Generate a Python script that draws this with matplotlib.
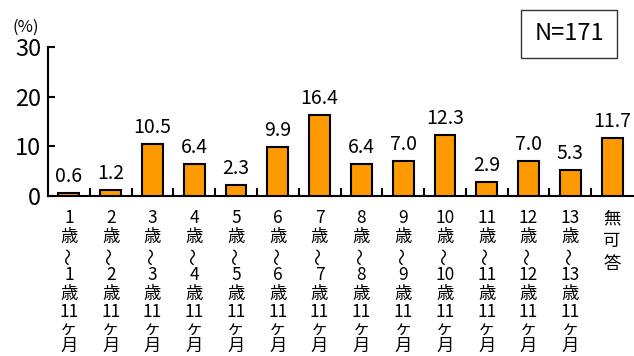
import numpy as np
import matplotlib
matplotlib.use('Agg')
import matplotlib.pyplot as plt

plt.rcParams['font.family'] = ['Noto Sans CJK JP', 'DejaVu Sans']

# age groups; each label is written top to bottom, one glyph per row
ages = ['1', '2', '3', '4', '5', '6', '7', '8', '9', '10', '11', '12', '13']
categories = [[a, '歳', '～', a, '歳', '11', 'ヶ', '月'] for a in ages]
categories.append(['無', '可', '答'])
values = [0.6, 1.2, 10.5, 6.4, 2.3, 9.9, 16.4, 6.4, 7.0, 12.3, 2.9, 7.0, 5.3, 11.7]
n_label = 'N=171'

W, H = 634, 356
fig = plt.figure(figsize=(W / 100, H / 100), dpi=100)
ax = fig.add_axes([48/W, 1 - 196/H, 585/W, 149/H])

x = np.arange(len(values))
ax.bar(x, values, width=0.5, color='#ff9900', edgecolor='black', linewidth=1.5,
       zorder=3)
for xi, v in zip(x, values):
    ax.text(xi, v + 1.2, f'{v:.1f}', ha='center', va='bottom', fontsize=14)

ax.set_xlim(-0.5, len(values) - 0.5)
ax.set_ylim(0, 30)
ax.set_yticks([0, 10, 20, 30])
ax.tick_params(axis='y', direction='in', length=5, width=1.5, labelsize=17, pad=5)
ax.set_xticks(np.arange(0.5, len(values) - 1, 1.0))
ax.set_xticklabels([])
ax.tick_params(axis='x', direction='in', length=6, width=1.5)
for s in ['top', 'right']:
    ax.spines[s].set_visible(False)
for s in ['left', 'bottom']:
    ax.spines[s].set_linewidth(1.5)

# vertical category labels: row centres in pixels below the x axis
rows = [22, 41, 60, 79, 98, 116, 133, 150]
rows_na = [22, 45, 68]
for xi, glyphs in zip(x, categories):
    offs = rows_na if len(glyphs) == 3 else rows
    for g, dy in zip(glyphs, offs):
        ax.annotate(g, xy=(xi, 0), xycoords=('data', 'axes fraction'),
                    xytext=(0, -dy * 0.72), textcoords='offset points',
                    ha='center', va='center', fontsize=12.5,
                    rotation=90 if g == '～' else 0)

fig.text(12/W, 1 - 27/H, '(%)', fontsize=12, va='center', ha='left')
fig.text(569/W, 1 - 34/H, n_label, fontsize=17, ha='center', va='center',
         bbox=dict(boxstyle='square,pad=0.55', facecolor='white',
                   edgecolor='#333333', linewidth=1.0))

fig.savefig('out.png', dpi=100)
